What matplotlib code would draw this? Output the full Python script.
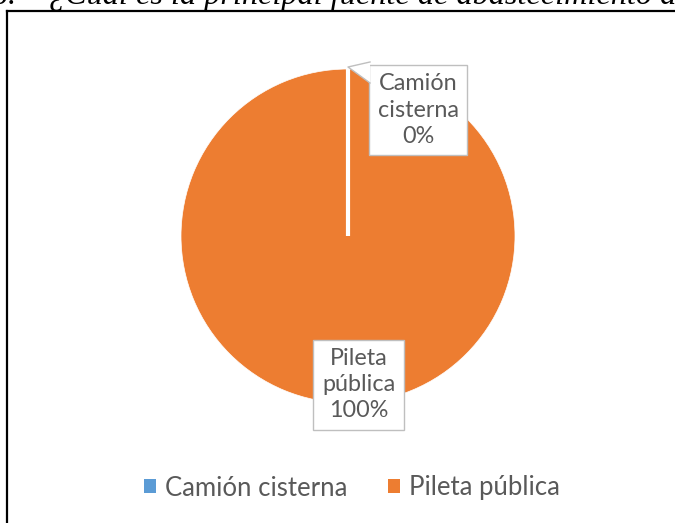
import matplotlib

matplotlib.use("Agg")

import matplotlib.pyplot as plt
import numpy as np
from matplotlib.lines import Line2D
from matplotlib.patches import Polygon, Patch

categories = ["Camión cisterna", "Pileta pública"]
counts = [0, 100]
colors = ["#5B9BD5", "#ED7D31"]
caption_number = "Figura 16."
caption_text = "¿Cuál es la principal fuente de abastecimiento de agua?"

W, H = 675, 523
fig = plt.figure(figsize=(W / 100, H / 100), dpi=100)
fig.patch.set_facecolor("white")

# caption above the chart frame, mostly cut off by the top edge
caption_kw = dict(family="Liberation Serif", style="italic", fontsize=23.2,
                  color="black", va="baseline")
fig.text(16 / W, 1 - 4 / H, caption_number, ha="right", **caption_kw)
fig.text(49 / W, 1 - 4 / H, caption_text, ha="left", **caption_kw)

# chart frame: only left and top edges fall inside the image
fig.add_artist(Line2D([7 / W, 7 / W], [0, 1 - 11 / H], transform=fig.transFigure,
                      color="black", lw=1.6, solid_capstyle="projecting"))
fig.add_artist(Line2D([7 / W, 1], [1 - 11 / H, 1 - 11 / H], transform=fig.transFigure,
                      color="black", lw=1.6, solid_capstyle="projecting"))

cx, cy, r = 348, 236, 167
ax = fig.add_axes([(cx - r) / W, (H - cy - r) / H, 2 * r / W, 2 * r / H])
wedges, _ = ax.pie(counts, colors=colors, startangle=90, counterclock=False,
                   radius=1, wedgeprops=dict(edgecolor="white", linewidth=0.5))
ax.set_xlim(-1, 1)
ax.set_ylim(-1, 1)
ax.set_aspect("equal")
ax.axis("off")

# slice border where the empty slice sits
ang = np.deg2rad(wedges[0].theta1)
ax.plot([0, np.cos(ang)], [0, np.sin(ang)], color="white", lw=3, zorder=3,
        solid_capstyle="butt")

total = sum(counts)
pcts = [f"{round(100 * v / total)}%" for v in counts]
label_font = dict(family="Lato", fontsize=16.8, color="#595959", linespacing=1.3)
box = dict(boxstyle="square,pad=0.36", fc="white", ec="#BFBFBF", lw=1)

# data label for the empty slice, with a callout pointing at the top of the pie
lbl = categories[0].replace(" ", "\n")
ax.text(0.42, 0.754, f"{lbl}\n{pcts[0]}", ha="center", va="center",
        bbox=box, zorder=5, clip_on=False, **label_font)
ptr = [(0.0, 1.012), (0.132, 1.042), (0.132, 0.916)]
ax.add_patch(Polygon(ptr, closed=True, fc="white", ec="none", zorder=6, clip_on=False))
ax.add_line(Line2D([ptr[1][0], ptr[0][0], ptr[2][0]], [ptr[1][1], ptr[0][1], ptr[2][1]],
                   color="#BFBFBF", lw=1, zorder=7, clip_on=False))

lbl = categories[1].replace(" ", "\n")
ax.text(0.063, -0.89, f"{lbl}\n{pcts[1]}", ha="center", va="center",
        bbox=box, zorder=5, clip_on=False, **label_font)

handles = [Patch(facecolor=c, edgecolor="none") for c in colors]
fig.legend(handles, categories, loc="center", bbox_to_anchor=(352 / W, 1 - 488 / H),
           ncol=2, frameon=False, handlelength=0.47, handleheight=0.47,
           handletextpad=0.35, columnspacing=1.55,
           prop=dict(family="Lato", size=18.5), labelcolor="#595959")

fig.savefig("out.png", dpi=100, facecolor="white")
